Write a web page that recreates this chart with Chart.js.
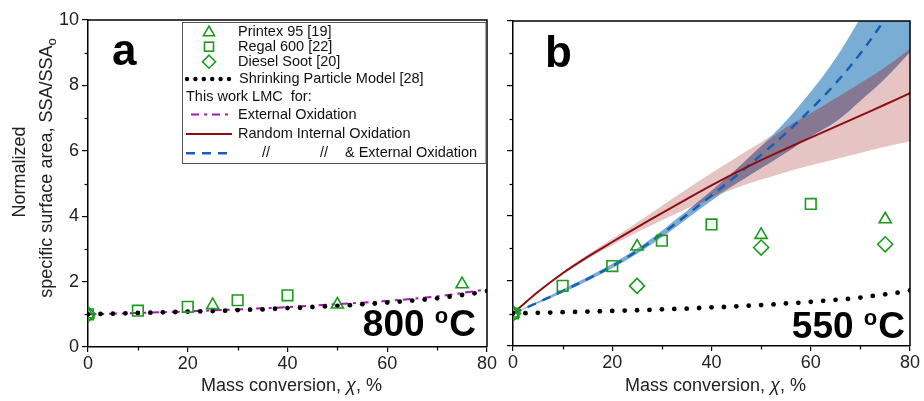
<!DOCTYPE html>
<html><head><meta charset="utf-8">
<script src="https://cdn.jsdelivr.net/npm/chart.js@4/dist/chart.umd.min.js"></script>
<style>
html,body{margin:0;padding:0;background:#fff;}
#wrap{position:relative;width:924px;height:401px;overflow:hidden;}
#ca{position:absolute;left:0;top:0;}
#cb{position:absolute;left:500px;top:0;}
</style></head><body>
<div id="wrap"><canvas id="ca" width="500" height="401"></canvas><canvas id="cb" width="424" height="401"></canvas></div>
<script>
const FONT = "'Liberation Sans', Arial, Helvetica, sans-serif";
const GREEN = '#1b9a1b';
const PURPLE = '#a21caf';
const DARKRED = '#8c0f0f';
const BLUE = '#1560b8';

// tick values
const xMajorStep = 20, xMinorTicks = [10, 30, 50, 70];
const yMajorStep = 2, yMinorTicks = [1, 3, 5, 7, 9];

// ---- Panel a : 800 oC ----
const a_printexConv = [0, 25, 50, 75];
const a_printexSSA  = [1.0, 1.28, 1.30, 1.92];
const a_regalConv   = [0, 10, 20, 30, 40];
const a_regalSSA    = [1.0, 1.11, 1.23, 1.43, 1.58];
const a_dieselConv  = [0];
const a_dieselSSA   = [1.0];
const a_extConv     = [0, 10, 20, 30, 40, 50, 60, 70, 80];
const a_extSSA      = [1.0, 1.04, 1.09, 1.15, 1.22, 1.31, 1.41, 1.55, 1.76];

// ---- Shrinking particle model (both panels) ----
const spmConv = [0,2.5,5,7.5,10,12.5,15,17.5,20,22.5,25,27.5,30,32.5,35,37.5,40,42.5,45,47.5,50,52.5,55,57.5,60,62.5,65,67.5,70,72.5,75,77.5,80];
const spmSSA  = [1.00,1.01,1.02,1.03,1.04,1.05,1.06,1.07,1.08,1.09,1.10,1.11,1.13,1.14,1.15,1.17,1.19,1.20,1.22,1.24,1.26,1.28,1.31,1.33,1.36,1.39,1.42,1.45,1.49,1.54,1.59,1.64,1.71];

// ---- Panel b : 550 oC ----
const b_printexConv = [0, 25, 50, 75];
const b_printexSSA  = [1.0, 3.06, 3.42, 3.90];
const b_regalConv   = [0, 10, 20, 30, 40, 60];
const b_regalSSA    = [1.0, 1.85, 2.46, 3.24, 3.74, 4.37];
const b_dieselConv  = [0, 25, 50, 75];
const b_dieselSSA   = [1.0, 1.85, 3.03, 3.13];

const bandConv  = [0, 5, 10, 15, 20, 25, 30, 35, 40, 45, 50, 55, 60, 65, 70, 75, 80];
// Random internal oxidation
const rioMid    = [1.0, 1.66, 2.24, 2.74, 3.20, 3.65, 4.09, 4.52, 4.94, 5.34, 5.72, 6.07, 6.41, 6.75, 7.09, 7.43, 7.78];
const rioUpper  = [1.0, 1.68, 2.28, 2.81, 3.30, 3.80, 4.31, 4.82, 5.32, 5.80, 6.27, 6.72, 7.16, 7.62, 8.09, 8.58, 9.15];
const rioLower  = [1.0, 1.64, 2.20, 2.67, 3.10, 3.50, 3.87, 4.22, 4.56, 4.86, 5.12, 5.35, 5.56, 5.75, 5.94, 6.13, 6.30];
// Random internal & external oxidation
const rieMid    = [1.0, 1.34, 1.69, 2.06, 2.46, 2.92, 3.45, 4.03, 4.63, 5.24, 5.88, 6.55, 7.28, 8.08, 9.00, 10.08, 11.35];
const rieUpper  = [1.0, 1.37, 1.74, 2.12, 2.53, 3.00, 3.55, 4.15, 4.78, 5.44, 6.15, 6.92, 7.82, 8.85, 10.10, 11.50, 13.20];
const rieLower  = [1.0, 1.31, 1.64, 2.00, 2.39, 2.84, 3.35, 3.91, 4.47, 5.00, 5.48, 5.95, 6.45, 6.90, 7.55, 8.24, 9.05];

const pts = (xs, ys) => xs.map((x, i) => ({x: x, y: ys[i]}));

function marker(label, xs, ys, style, r) {
  return {label, data: pts(xs, ys), showLine: false, pointStyle: style, pointRadius: r,
    pointBorderColor: GREEN, pointBackgroundColor: 'rgba(0,0,0,0)', pointBorderWidth: 1.6};
}
function spmSet() {
  return {label: 'SPM', data: pts(spmConv, spmSSA), showLine: false, pointStyle: 'circle',
    pointRadius: 2.4, pointBorderWidth: 0, pointBackgroundColor: '#000', pointBorderColor: '#000'};
}
function lineSet(label, xs, ys, color, width, dash) {
  return {label, data: pts(xs, ys), borderColor: color, borderWidth: width, borderDash: dash || [],
    pointRadius: 0, fill: false, tension: 0.35};
}
function bandSet(label, xs, ys, color, fill) {
  return {label, data: pts(xs, ys), borderWidth: 0, borderColor: 'rgba(0,0,0,0)', pointRadius: 0,
    backgroundColor: color, fill: fill, tension: 0.35};
}

function scales(panel) {
  return {
    x: {type: 'linear', min: 0, max: 80,
      ticks: {stepSize: xMajorStep, font: {size: 18, family: FONT}, color: '#222', padding: 1, maxRotation: 0},
      grid: {display: true, drawOnChartArea: false, drawTicks: true, tickLength: 5, color: '#000', lineWidth: 1.2},
      border: {display: true, color: '#000', width: 1.5},
      afterFit(s) { s.height = panel === 'a' ? 54 : 55; }},
    y: {type: 'linear', min: 0, max: 10,
      ticks: {stepSize: yMajorStep, font: {size: 18, family: FONT}, color: '#222', padding: 3,
        callback: panel === 'a' ? (v => v) : (() => '')},
      grid: {display: true, drawOnChartArea: false, drawTicks: true, tickLength: 6, color: '#000', lineWidth: 1.2},
      border: {display: true, color: '#000', width: 1.5},
      afterFit(s) { s.width = panel === 'a' ? 88 : 13; }}
  };
}

const framePlugin = {
  id: 'frame',
  afterDatasetsDraw(chart) {
    const {ctx, chartArea: {left, right, top, bottom}, scales: {x, y}} = chart;
    ctx.save();
    ctx.strokeStyle = '#000'; ctx.lineWidth = 1.5;
    ctx.beginPath(); ctx.moveTo(left, top); ctx.lineTo(right, top); ctx.lineTo(right, bottom); ctx.stroke();
    ctx.lineWidth = 1.2;
    yMinorTicks.forEach(v => { const py = Math.round(y.getPixelForValue(v)) + 0.5;
      ctx.beginPath(); ctx.moveTo(left - 3.5, py); ctx.lineTo(left, py); ctx.stroke(); });
    xMinorTicks.forEach(v => { const px = Math.round(x.getPixelForValue(v)) + 0.5;
      ctx.beginPath(); ctx.moveTo(px, bottom); ctx.lineTo(px, bottom + 3.5); ctx.stroke(); });
    ctx.restore();
  }
};

function drawXTitle(chart) {
  const {ctx, chartArea: {left, right}} = chart;
  ctx.save();
  ctx.fillStyle = '#222'; ctx.textBaseline = 'middle';
  const f1 = '18px ' + FONT, f2 = 'italic 18px ' + FONT;
  const p1 = 'Mass conversion, ', p2 = '\u03c7', p3 = ', %';
  ctx.font = f1; const w1 = ctx.measureText(p1).width, w3 = ctx.measureText(p3).width;
  ctx.font = f2; const w2 = ctx.measureText(p2).width;
  let x0 = (left + right) / 2 - (w1 + w2 + w3) / 2 + 4;
  const y0 = 386;
  ctx.textAlign = 'left';
  ctx.font = f1; ctx.fillText(p1, x0, y0);
  ctx.font = f2; ctx.fillText(p2, x0 + w1, y0);
  ctx.font = f1; ctx.fillText(p3, x0 + w1 + w2, y0);
  ctx.restore();
}

function drawTempLabel(ctx, num, xRight, baseline) {
  ctx.save();
  ctx.fillStyle = '#000'; ctx.textBaseline = 'alphabetic'; ctx.textAlign = 'left';
  const fBig = 'bold 37px ' + FONT, fSmall = 'bold 22px ' + FONT;
  ctx.font = fBig; const wn = ctx.measureText(num + ' ').width, wc = ctx.measureText('C').width;
  ctx.font = fSmall; const wo = ctx.measureText('o').width + 1;
  let x0 = xRight - (wn + wo + wc);
  ctx.font = fBig; ctx.fillText(num + ' ', x0, baseline);
  ctx.font = fSmall; ctx.fillText('o', x0 + wn, baseline - 13);
  ctx.font = fBig; ctx.fillText('C', x0 + wn + wo, baseline);
  ctx.restore();
}

const annotA = {
  id: 'annotA',
  afterDraw(chart) {
    const {ctx, chartArea: {left, right, top}} = chart;
    ctx.save();
    ctx.fillStyle = '#000'; ctx.font = 'bold 44px ' + FONT; ctx.textBaseline = 'alphabetic'; ctx.textAlign = 'left';
    ctx.fillText('a', 112, 65);
    drawTempLabel(ctx, '800', 476, 336);
    drawXTitle(chart);
    // y title
    ctx.save();
    ctx.fillStyle = '#222'; ctx.textBaseline = 'middle';
    ctx.translate(20, 172); ctx.rotate(-Math.PI / 2);
    ctx.font = '18px ' + FONT; ctx.textAlign = 'center';
    ctx.fillText('Normalized', 0, 0);
    ctx.restore();
    ctx.save();
    ctx.fillStyle = '#222'; ctx.textBaseline = 'middle';
    ctx.translate(47, 168); ctx.rotate(-Math.PI / 2);
    const t2 = 'specific surface area, SSA/SSA';
    ctx.font = '18px ' + FONT; const wt = ctx.measureText(t2).width;
    ctx.font = '13px ' + FONT; const wo = ctx.measureText('o').width;
    const xs = -(wt + wo) / 2;
    ctx.textAlign = 'left';
    ctx.font = '18px ' + FONT; ctx.fillText(t2, xs, 0);
    ctx.font = '13px ' + FONT; ctx.fillText('o', xs + wt, 5);
    ctx.restore();

    // legend
    const lx = 182.5, ly = 22.5, lw = right - 1 - lx, lh = 141;
    ctx.strokeStyle = '#555'; ctx.lineWidth = 1;
    ctx.strokeRect(lx, ly, lw, lh);
    const rows = [31.7, 46.7, 61.7, 79, 97.3, 114.5, 134, 153.3];
    const sx = 209, tx = 238;
    ctx.strokeStyle = GREEN; ctx.lineWidth = 1.6;
    ctx.beginPath(); ctx.moveTo(sx, rows[0] - 5.5); ctx.lineTo(sx + 5.5, rows[0] + 4); ctx.lineTo(sx - 5.5, rows[0] + 4); ctx.closePath(); ctx.stroke();
    ctx.strokeRect(sx - 4.5, rows[1] - 4.5, 9, 9);
    ctx.beginPath(); ctx.moveTo(sx, rows[2] - 6.5); ctx.lineTo(sx + 6.5, rows[2]); ctx.lineTo(sx, rows[2] + 6.5); ctx.lineTo(sx - 6.5, rows[2]); ctx.closePath(); ctx.stroke();
    ctx.fillStyle = '#000';
    for (let i = 0; i < 6; i++) { ctx.beginPath(); ctx.arc(187 + i * 8.4, rows[3], 2.2, 0, Math.PI * 2); ctx.fill(); }
    ctx.strokeStyle = PURPLE; ctx.lineWidth = 2; ctx.setLineDash([8, 5, 3, 5]);
    ctx.beginPath(); ctx.moveTo(191, rows[5]); ctx.lineTo(229, rows[5]); ctx.stroke();
    ctx.setLineDash([]);
    ctx.strokeStyle = DARKRED; ctx.lineWidth = 2;
    ctx.beginPath(); ctx.moveTo(186, rows[6]); ctx.lineTo(232, rows[6]); ctx.stroke();
    ctx.strokeStyle = BLUE; ctx.lineWidth = 2.5; ctx.setLineDash([9, 7]);
    ctx.beginPath(); ctx.moveTo(186, rows[7]); ctx.lineTo(234, rows[7]); ctx.stroke();
    ctx.setLineDash([]);
    ctx.fillStyle = '#111'; ctx.font = '14.5px ' + FONT; ctx.textBaseline = 'middle'; ctx.textAlign = 'left';
    ctx.fillText('Printex 95 [19]', tx, rows[0]);
    ctx.fillText('Regal 600 [22]', tx, rows[1]);
    ctx.fillText('Diesel Soot [20]', tx, rows[2]);
    ctx.fillText('Shrinking Particle Model [28]', tx + 1, rows[3]);
    ctx.fillText('This work LMC  for:', 186, rows[4]);
    ctx.fillText('External Oxidation', tx, rows[5]);
    ctx.fillText('Random Internal Oxidation', tx, rows[6]);
    ctx.fillText('//', 262, rows[7]);
    ctx.fillText('//', 320, rows[7]);
    ctx.fillText('& External Oxidation', 345, rows[7]);
    ctx.restore();
  }
};

const annotB = {
  id: 'annotB',
  afterDraw(chart) {
    const {ctx} = chart;
    ctx.save();
    ctx.fillStyle = '#000'; ctx.font = 'bold 44px ' + FONT; ctx.textBaseline = 'alphabetic'; ctx.textAlign = 'left';
    ctx.fillText('b', 45, 67);
    drawTempLabel(ctx, '550', 405, 338);
    drawXTitle(chart);
    ctx.restore();
  }
};

const common = {
  responsive: false, animation: false, events: [],
  plugins: {legend: {display: false}, tooltip: {enabled: false}},
};

new Chart(document.getElementById('ca'), {
  type: 'line',
  data: {datasets: [
    marker('Printex 95 [19]', a_printexConv, a_printexSSA, 'triangle', 7),
    marker('Regal 600 [22]', a_regalConv, a_regalSSA, 'rect', 7.5),
    marker('Diesel Soot [20]', a_dieselConv, a_dieselSSA, 'rectRot', 7.5),
    spmSet(),
    lineSet('External Oxidation', a_extConv, a_extSSA, PURPLE, 2, [8, 5, 3, 5])
  ]},
  options: Object.assign({}, common, {
    layout: {padding: {left: 0, right: 13, top: 20, bottom: 0}},
    scales: scales('a')
  }),
  plugins: [framePlugin, annotA]
});

// overlap of the two uncertainty bands
const ovUpper = bandConv.map((_, i) => Math.min(rieUpper[i], rioUpper[i]));
const ovLower = bandConv.map((_, i) => Math.min(Math.max(rieLower[i], rioLower[i]), ovUpper[i]));

new Chart(document.getElementById('cb'), {
  type: 'line',
  data: {datasets: [
    marker('Printex 95 [19]', b_printexConv, b_printexSSA, 'triangle', 7),
    marker('Regal 600 [22]', b_regalConv, b_regalSSA, 'rect', 7.5),
    marker('Diesel Soot [20]', b_dieselConv, b_dieselSSA, 'rectRot', 7.5),
    spmSet(),
    lineSet('Random Internal Oxidation', bandConv, rioMid, DARKRED, 2),
    lineSet('Random Internal & External Oxidation', bandConv, rieMid, BLUE, 2.5, [9, 7]),
    bandSet('overlap upper', bandConv, ovUpper, 'rgb(134,120,146)', '+1'),
    bandSet('overlap lower', bandConv, ovLower, 'rgba(0,0,0,0)', false),
    bandSet('RIE upper', bandConv, rieUpper, 'rgb(122,173,212)', '+1'),
    bandSet('RIE lower', bandConv, rieLower, 'rgba(0,0,0,0)', false),
    bandSet('RIO upper', bandConv, rioUpper, 'rgb(231,196,196)', '+1'),
    bandSet('RIO lower', bandConv, rioLower, 'rgba(0,0,0,0)', false)
  ]},
  options: Object.assign({}, common, {
    layout: {padding: {left: 0, right: 14, top: 21, bottom: 0}},
    scales: scales('b')
  }),
  plugins: [framePlugin, annotB]
});
</script>
</body></html>
